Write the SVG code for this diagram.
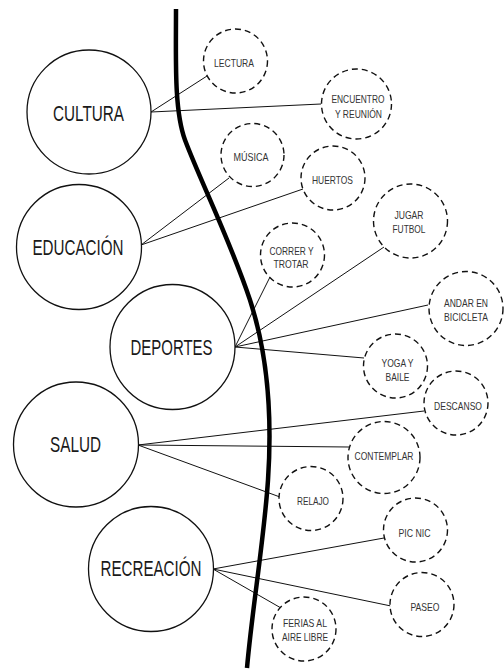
<svg xmlns="http://www.w3.org/2000/svg" width="504" height="669" viewBox="0 0 504 669">
<style>
.big{fill:#fff;stroke:#111;stroke-width:1.3}
.sm{fill:#fff;stroke:#111;stroke-width:1.4;stroke-dasharray:6 4}
.bt{font-family:"Liberation Sans",Arial,sans-serif;font-size:22.5px;fill:#1a1a1a;text-anchor:middle}
.st{font-family:"Liberation Sans",Arial,sans-serif;font-size:11.5px;fill:#333;text-anchor:middle}
.con line{stroke:#111;stroke-width:1}
</style>
<rect width="504" height="669" fill="#fff"/>
<g id="connectors" class="con">
<line x1="151" y1="112" x2="207" y2="76"/>
<line x1="151" y1="112" x2="321" y2="104"/>
<line x1="141" y1="245" x2="229" y2="178"/>
<line x1="141" y1="245" x2="303" y2="189"/>
<line x1="235" y1="347" x2="270" y2="277"/>
<line x1="235" y1="347" x2="384" y2="247"/>
<line x1="235" y1="347" x2="428" y2="305"/>
<line x1="235" y1="347" x2="364" y2="358"/>
<line x1="138" y1="445" x2="424" y2="411"/>
<line x1="138" y1="445" x2="349" y2="447"/>
<line x1="138" y1="445" x2="280" y2="497"/>
<line x1="213" y1="569" x2="384" y2="538"/>
<line x1="213" y1="569" x2="391" y2="606"/>
<line x1="213" y1="569" x2="281" y2="608"/>
</g>
<path id="river" d="M176,9 C176,60 174,110 185,140 C200,180 230,240 250,300 C268,355 272,420 268,480 C264,540 252,610 247,668" fill="none" stroke="#000" stroke-width="4.5"/>
<g id="cultura"><circle class="big" cx="89" cy="112" r="62"/><text class="bt" x="88.5" y="121" textLength="71" lengthAdjust="spacingAndGlyphs">CULTURA</text></g>
<g id="educacion"><circle class="big" cx="79" cy="247" r="62.5"/><text class="bt" x="78" y="255" textLength="91" lengthAdjust="spacingAndGlyphs">EDUCACIÓN</text></g>
<g id="deportes"><circle class="big" cx="172.5" cy="347" r="62.5"/><text class="bt" x="171.5" y="355" textLength="82" lengthAdjust="spacingAndGlyphs">DEPORTES</text></g>
<g id="salud"><circle class="big" cx="76" cy="444.5" r="62.5"/><text class="bt" x="75.5" y="452" textLength="51" lengthAdjust="spacingAndGlyphs">SALUD</text></g>
<g id="recreacion"><circle class="big" cx="151" cy="569" r="62.5"/><text class="bt" x="151" y="576" textLength="101" lengthAdjust="spacingAndGlyphs">RECREACIÓN</text></g>
<g id="lectura"><circle class="sm" cx="235.5" cy="61" r="32"/><text class="st" x="234" y="67" textLength="40" lengthAdjust="spacingAndGlyphs">LECTURA</text></g>
<g id="encuentro"><circle class="sm" cx="356.5" cy="104" r="35"/><text class="st" x="358" y="103" textLength="53" lengthAdjust="spacingAndGlyphs">ENCUENTRO</text><text class="st" x="358.5" y="118" textLength="47" lengthAdjust="spacingAndGlyphs">Y REUNIÓN</text></g>
<g id="musica"><circle class="sm" cx="252.5" cy="155" r="31.5"/><text class="st" x="251" y="161" textLength="35" lengthAdjust="spacingAndGlyphs">MÚSICA</text></g>
<g id="huertos"><circle class="sm" cx="333" cy="178" r="32"/><text class="st" x="332.5" y="184" textLength="41" lengthAdjust="spacingAndGlyphs">HUERTOS</text></g>
<g id="jugar"><circle class="sm" cx="410.5" cy="221" r="37"/><text class="st" x="409" y="219" textLength="29" lengthAdjust="spacingAndGlyphs">JUGAR</text><text class="st" x="409" y="233" textLength="33" lengthAdjust="spacingAndGlyphs">FUTBOL</text></g>
<g id="correr"><circle class="sm" cx="292.5" cy="255" r="32"/><text class="st" x="291.5" y="255" textLength="44" lengthAdjust="spacingAndGlyphs">CORRER Y</text><text class="st" x="291" y="268" textLength="35" lengthAdjust="spacingAndGlyphs">TROTAR</text></g>
<g id="andar"><circle class="sm" cx="466" cy="308.5" r="37"/><text class="st" x="466" y="307" textLength="44" lengthAdjust="spacingAndGlyphs">ANDAR EN</text><text class="st" x="466" y="321" textLength="44" lengthAdjust="spacingAndGlyphs">BICICLETA</text></g>
<g id="yoga"><circle class="sm" cx="395.5" cy="366" r="32"/><text class="st" x="397.5" y="367" textLength="32" lengthAdjust="spacingAndGlyphs">YOGA Y</text><text class="st" x="397.5" y="381" textLength="24" lengthAdjust="spacingAndGlyphs">BAILE</text></g>
<g id="descanso"><circle class="sm" cx="456" cy="403" r="32"/><text class="st" x="458" y="410" textLength="48" lengthAdjust="spacingAndGlyphs">DESCANSO</text></g>
<g id="contemplar"><circle class="sm" cx="384" cy="457.5" r="36"/><text class="st" x="384" y="460" textLength="59" lengthAdjust="spacingAndGlyphs">CONTEMPLAR</text></g>
<g id="relajo"><circle class="sm" cx="311" cy="498.5" r="32"/><text class="st" x="313" y="505" textLength="32" lengthAdjust="spacingAndGlyphs">RELAJO</text></g>
<g id="picnic"><circle class="sm" cx="415.5" cy="530" r="32"/><text class="st" x="414.5" y="537" textLength="32" lengthAdjust="spacingAndGlyphs">PIC NIC</text></g>
<g id="paseo"><circle class="sm" cx="422" cy="604.5" r="32"/><text class="st" x="425" y="611" textLength="29" lengthAdjust="spacingAndGlyphs">PASEO</text></g>
<g id="ferias"><circle class="sm" cx="304" cy="629" r="32"/><text class="st" x="305" y="627" textLength="44" lengthAdjust="spacingAndGlyphs">FERIAS AL</text><text class="st" x="305" y="641" textLength="46" lengthAdjust="spacingAndGlyphs">AIRE LIBRE</text></g>
</svg>
